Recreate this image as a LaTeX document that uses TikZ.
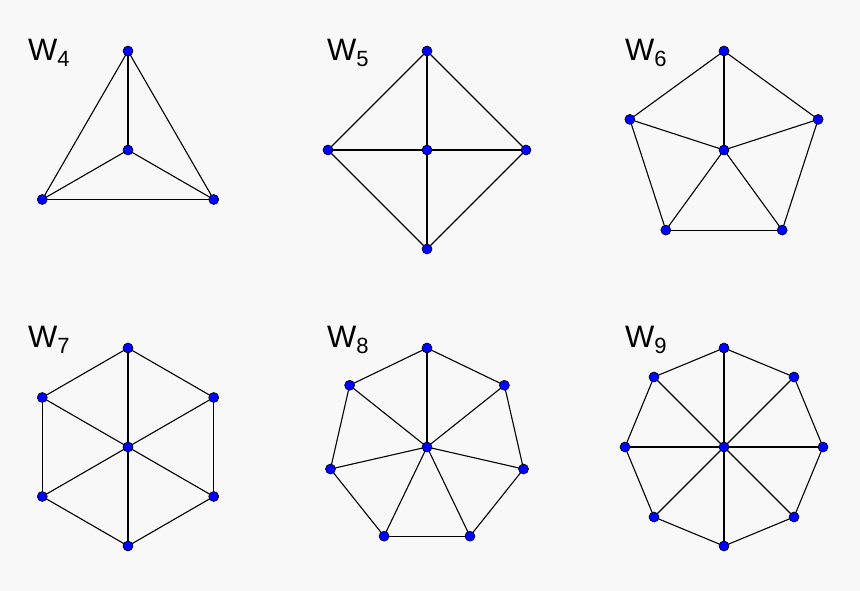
\documentclass[tikz,border=0pt]{standalone}
\usepackage{fontspec}
\setmainfont{Liberation Sans}
\usetikzlibrary{calc,backgrounds}
\definecolor{bg}{HTML}{F8F8F8}
\tikzset{dot/.style={circle,fill=blue,draw=black,line width=0.6pt,inner sep=0pt,minimum size=10pt},
 edge/.style={line width=1.1pt,black},
 lbl/.style={anchor=west,inner sep=0pt}}
\newcommand\mywheel[5]{% name, cx, cy, n, label sub
  \node[dot] (#1-c) at (#2,-#3) {};
  \foreach \i in {1,...,#4}{
    \node[dot] (#1-\i) at ($(#2,-#3)+({90+360*(\i-1)/#4}:99)$) {};
  }
  \begin{scope}[on background layer]
  \foreach \i [evaluate=\i as \j using {int(mod(\i,#4)+1)}] in {1,...,#4}{
    \draw[edge] (#1-c.center) -- (#1-\i.center);
    \draw[edge] (#1-\i.center) -- (#1-\j.center);
  }
  \end{scope}
}
\begin{document}
\begin{tikzpicture}[x=1pt,y=1pt]
\begin{scope}[on background layer]
\fill[bg] (0,0) rectangle (860,-591);
\end{scope}
\useasboundingbox (0,0) rectangle (860,-591);
\mywheel{a}{128}{150}{3}{4}
\mywheel{b}{427}{150}{4}{5}
\mywheel{c}{724}{150}{5}{6}
\mywheel{d}{128}{447}{6}{7}
\mywheel{e}{427}{447}{7}{8}
\mywheel{f}{724}{447}{8}{9}
\foreach \nm/\x/\y/\s in {la/28/53/4,lb/327/53/5,lc/625/53/6,ld/28/340/7,le/327/340/8,lf/625/340/9}{
  \node[lbl] (\nm) at (\x,-\y) {\fontsize{31}{31}\selectfont W\raisebox{-6pt}{\fontsize{22}{22}\selectfont\s}};
}
\end{tikzpicture}
\end{document}
